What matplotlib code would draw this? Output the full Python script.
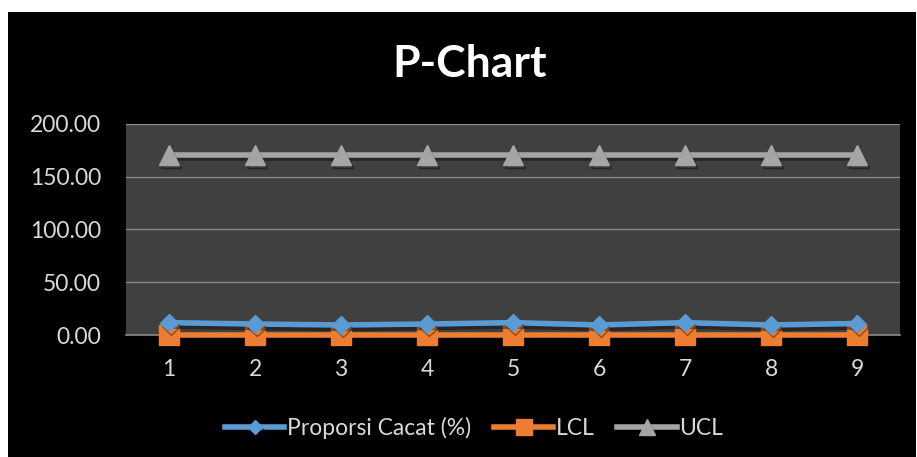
import matplotlib
matplotlib.use('Agg')
import matplotlib.pyplot as plt
import matplotlib.patheffects as pe
from matplotlib.patches import Rectangle

plt.rcParams['font.family'] = ['Lato', 'DejaVu Sans']

# data
samples = [1, 2, 3, 4, 5, 6, 7, 8, 9]
proporsi = [11.7, 10.4, 9.5, 10.4, 11.7, 9.5, 11.7, 9.5, 10.9]
lcl = [0, 0, 0, 0, 0, 0, 0, 0, 0]
ucl = [170.6] * 9
yticks = [0, 50, 100, 150, 200]

fig = plt.figure(figsize=(9.17, 4.57), dpi=100, facecolor='white')
# black chart area
fig.patches.append(Rectangle((8 / 917, 0), 908 / 917, 445 / 457,
                             transform=fig.transFigure, facecolor='black',
                             edgecolor='none', zorder=-1))

ax = fig.add_axes([126 / 917, (457 - 335) / 457, 774 / 917, 211 / 457])
ax.set_facecolor('#404040')

shadow = [pe.SimpleLineShadow(offset=(1.5, -2.5), alpha=0.4, shadow_color='black'), pe.Normal()]

ax.plot(samples, proporsi, color='#5b9bd5', lw=4, marker='D', ms=9,
        label='Proporsi Cacat (%)', zorder=4, path_effects=shadow, clip_on=False)
ax.plot(samples, lcl, color='#ed7d31', lw=4, marker='s', ms=14,
        label='LCL', zorder=3, clip_on=False)
ax.plot(samples, ucl, color='#a5a5a5', lw=4, marker='^', ms=14,
        label='UCL', zorder=3, path_effects=shadow, clip_on=False)

ax.set_xlim(0.5, 9.5)
ax.set_ylim(0, 200)
ax.set_yticks(yticks)
ax.set_yticklabels([f'{v:.2f}' for v in yticks])
ax.set_xticks(samples)
ax.grid(axis='y', color='#8c8c8c', lw=0.9)
ax.set_axisbelow(True)
for s in ['top', 'right', 'left']:
    ax.spines[s].set_visible(False)
ax.spines['bottom'].set_color('#8c8c8c')
ax.spines['bottom'].set_linewidth(1.2)
ax.tick_params(length=0, labelsize=16.5, colors='#d9d9d9')
ax.tick_params(axis='x', pad=17)
ax.tick_params(axis='y', pad=18)

fig.text(470 / 917, 1 - 64 / 457, 'P-Chart', ha='center', va='center',
         fontsize=32, fontweight='bold', color='white')

leg = fig.legend(loc='center', bbox_to_anchor=(474 / 917, 1 - 428 / 457), ncol=3,
                 frameon=False, fontsize=16.5, labelcolor='#d9d9d9', markerscale=0.8,
                 handlelength=2.6, handletextpad=0.1, columnspacing=1.0)

fig.savefig('out.png', dpi=100, facecolor='white')
